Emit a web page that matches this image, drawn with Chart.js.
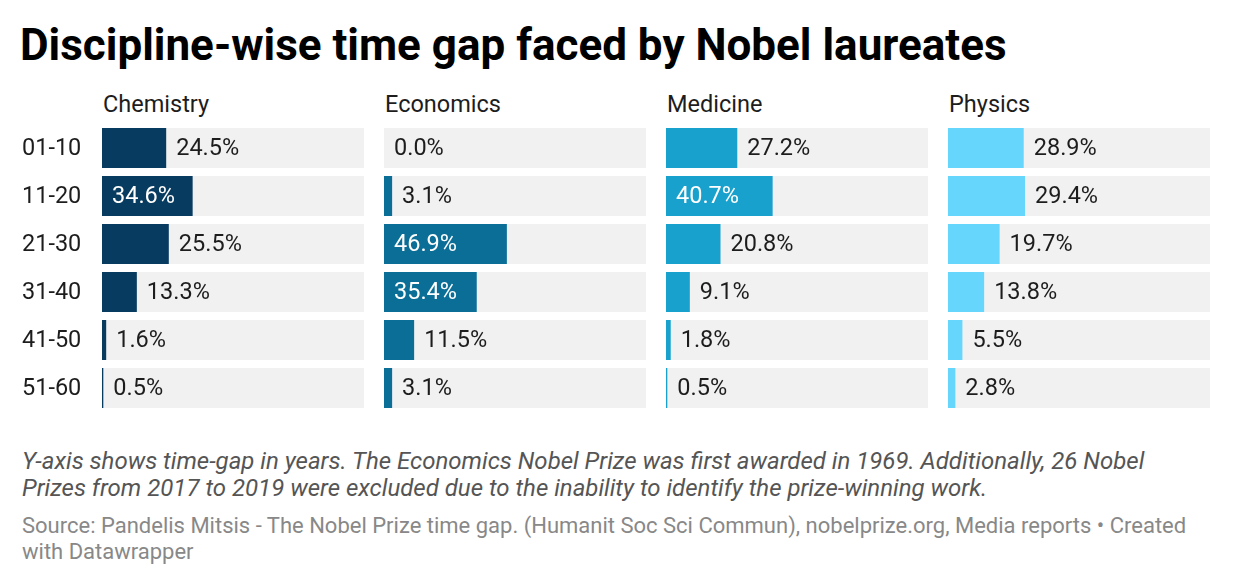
<!DOCTYPE html>
<html>
<head>
<meta charset="utf-8">
<script src="https://cdn.jsdelivr.net/npm/chart.js@4.4.1/dist/chart.umd.min.js"></script>
<style>
  html, body { margin: 0; padding: 0; background: #fff; }
  body { width: 1240px; height: 586px; position: relative; overflow: hidden; font-family: Roboto, "Noto Sans", sans-serif; }
  .abs { position: absolute; white-space: nowrap; }
  #title { left: 20px; top: 19px; font-size: 44px; line-height: 52px; font-weight: 700; color: #000; }
  .hdr { top: 90px; font-size: 23.5px; line-height: 28px; color: #1d1d1d; }
  #notes { left: 22px; top: 448px; font-size: 24px; line-height: 27px; font-style: italic; color: #555; white-space: normal; width: 1175px; }
  #source { left: 22px; top: 513px; font-size: 22px; line-height: 26px; color: #888; white-space: normal; width: 1200px; }
  canvas { position: absolute; }
</style>
</head>
<body>
<div id="title" class="abs">Discipline-wise time gap faced by Nobel laureates</div>
<div id="notes" class="abs">Y-axis shows time-gap in years. The Economics Nobel Prize was first awarded in 1969. Additionally, 26 Nobel Prizes from 2017 to 2019 were excluded due to the inability to identify the prize-winning work.</div>
<div id="source" class="abs">Source: Pandelis Mitsis - The Nobel Prize time gap. (Humanit Soc Sci Commun), nobelprize.org, Media reports • Created with Datawrapper</div>

<script>
// ---- Data ----
const categories = ["01-10", "11-20", "21-30", "31-40", "41-50", "51-60"];
const disciplines = ["Chemistry", "Economics", "Medicine", "Physics"];
const chemistry = [24.5, 34.6, 25.5, 13.3, 1.6, 0.5];
const economics = [0.0, 3.1, 46.9, 35.4, 11.5, 3.1];
const medicine  = [27.2, 40.7, 20.8, 9.1, 1.8, 0.5];
const physics   = [28.9, 29.4, 19.7, 13.8, 5.5, 2.8];
const axisMax = 100;

// ---- Styles ----
const seriesData = [chemistry, economics, medicine, physics];
const colors = ["#083b60", "#0b6e97", "#19a1cd", "#67d6fc"];
const panelLefts = [102, 384, 666, 948];
const panelWidth = 262;
const chartTop = 124, chartHeight = 288;
const insideThreshold = 30;
const labelFont = '23.5px Roboto';

const trackPlugin = {
  id: 'track',
  beforeDatasetsDraw(chart) {
    const ctx = chart.ctx, xs = chart.scales.x;
    const meta = chart.getDatasetMeta(0);
    ctx.save();
    ctx.fillStyle = '#f1f1f1';
    const x0 = xs.getPixelForValue(0), x1 = xs.getPixelForValue(axisMax);
    meta.data.forEach(bar => {
      ctx.fillRect(x0, bar.y - bar.height / 2, x1 - x0, bar.height);
    });
    ctx.restore();
  }
};

const labelPlugin = {
  id: 'vlabels',
  afterDatasetsDraw(chart, args, opts) {
    const ctx = chart.ctx;
    const meta = chart.getDatasetMeta(0);
    const data = chart.data.datasets[0].data;
    ctx.save();
    ctx.font = labelFont;
    ctx.textBaseline = 'middle';
    ctx.textAlign = 'left';
    meta.data.forEach((bar, i) => {
      const v = data[i];
      const txt = v.toFixed(1) + '%';
      if (v > insideThreshold) {
        ctx.fillStyle = '#ffffff';
        ctx.fillText(txt, bar.base + 10, bar.y + 1);
      } else {
        ctx.fillStyle = '#1d1d1d';
        ctx.fillText(txt, bar.x + 10, bar.y + 1);
      }
      if (opts.rowLabels) {
        ctx.fillStyle = '#1d1d1d';
        ctx.fillText(chart.data.labels[i], 22, bar.y + 1);
      }
    });
    ctx.restore();
  }
};

disciplines.forEach((name, k) => {
  const hdr = document.createElement('div');
  hdr.className = 'abs hdr';
  hdr.style.left = (panelLefts[k] + 1) + 'px';
  hdr.textContent = name;
  document.body.appendChild(hdr);

  const cv = document.createElement('canvas');
  const withAxis = k === 0;
  const left = withAxis ? 0 : panelLefts[k];
  const width = withAxis ? panelLefts[k] + panelWidth : panelWidth;
  cv.style.left = left + 'px';
  cv.style.top = chartTop + 'px';
  cv.style.width = width + 'px';
  cv.style.height = chartHeight + 'px';
  cv.width = width; cv.height = chartHeight;
  document.body.appendChild(cv);

  new Chart(cv, {
    type: 'bar',
    data: {
      labels: categories,
      datasets: [{
        data: seriesData[k],
        backgroundColor: colors[k],
        borderWidth: 0,
        barPercentage: 40 / 48,
        categoryPercentage: 1.0
      }]
    },
    options: {
      indexAxis: 'y',
      responsive: false,
      animation: false,
      events: [],
      layout: { padding: { left: withAxis ? panelLefts[0] : 0, right: 0, top: 0, bottom: 0 } },
      plugins: {
        legend: { display: false }, tooltip: { enabled: false }, title: { display: false },
        vlabels: { rowLabels: withAxis }
      },
      scales: {
        x: { display: false, min: 0, max: axisMax },
        y: { display: false }
      }
    },
    plugins: [trackPlugin, labelPlugin]
  });
});
</script>
</body>
</html>
